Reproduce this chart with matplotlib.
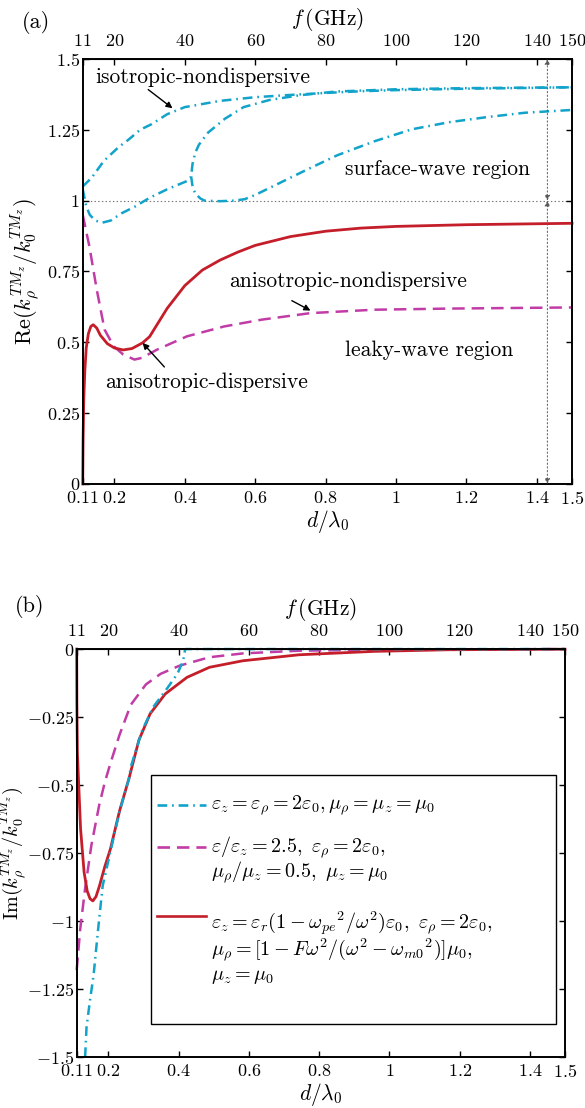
import matplotlib
matplotlib.use('Agg')
import matplotlib.pyplot as plt
from matplotlib.patches import Rectangle

plt.rcParams.update({
    'font.family': 'serif', 'font.serif': ['cmr10'], 'mathtext.fontset': 'cm',
    'axes.unicode_minus': False, 'axes.formatter.use_mathtext': True,
    'lines.scale_dashes': False,
})

CYAN = '#12A3CB'
RED = '#C41E2A'
MAG = '#C13CA6'
DASHDOT = (0, (7, 3.5, 1.2, 3.5))
DASHED = (0, (9, 5))

# ---------------- data: panel (a) real part ----------------
iso_A_x = [0.11, 0.135, 0.17, 0.2, 0.213, 0.239, 0.273, 0.306, 0.35, 0.4, 0.5, 0.6, 0.7, 0.8, 0.9, 1.0, 1.2, 1.4, 1.5]
iso_A_y = [1.05, 1.08, 1.14, 1.175, 1.19, 1.214, 1.25, 1.27, 1.305, 1.33, 1.352, 1.365, 1.373, 1.38, 1.386, 1.39, 1.395, 1.398, 1.40]

iso_CD_x = [0.11, 0.12, 0.13, 0.145, 0.165, 0.19, 0.22, 0.26, 0.3, 0.35, 0.408, 0.418,
            0.422, 0.43, 0.44, 0.466, 0.514, 0.567, 0.64, 0.727, 0.83, 1.0, 1.2, 1.5]
iso_CD_y = [1.04, 0.98, 0.95, 0.93, 0.922, 0.93, 0.955, 0.98, 1.01, 1.04, 1.07, 1.085,
            1.13, 1.17, 1.197, 1.24, 1.289, 1.33, 1.355, 1.372, 1.385, 1.393, 1.397, 1.40]

iso_E_x = [0.418, 0.422, 0.43, 0.445, 0.456, 0.5, 0.54, 0.57, 0.6, 0.674, 0.748, 0.833, 0.94, 1.046, 1.152, 1.26, 1.365, 1.5]
iso_E_y = [1.085, 1.05, 1.024, 1.007, 1.0, 0.998, 1.0, 1.005, 1.02, 1.065, 1.11, 1.16, 1.21, 1.252, 1.277, 1.295, 1.31, 1.32]

aniso_x = [0.11, 0.129, 0.15, 0.172, 0.198, 0.225, 0.257, 0.278, 0.321, 0.406, 0.512, 0.619, 0.757, 0.938, 1.15, 1.5]
aniso_y = [0.95, 0.838, 0.685, 0.545, 0.486, 0.457, 0.439, 0.445, 0.474, 0.521, 0.556, 0.58, 0.603, 0.615, 0.619, 0.623]

disp_x = [0.11, 0.111, 0.113, 0.116, 0.12, 0.126, 0.133, 0.14, 0.15, 0.16, 0.18, 0.2, 0.225, 0.25, 0.28, 0.3,
          0.35, 0.4, 0.45, 0.5, 0.55, 0.6, 0.7, 0.8, 0.9, 1.0, 1.2, 1.5]
disp_y = [0.0, 0.15, 0.3, 0.4, 0.48, 0.53, 0.556, 0.562, 0.55, 0.525, 0.495, 0.48, 0.473, 0.478, 0.498, 0.52,
          0.62, 0.70, 0.755, 0.79, 0.818, 0.842, 0.873, 0.892, 0.903, 0.909, 0.915, 0.92]

# ---------------- data: panel (b) imaginary part ----------------
iso_im_x = [0.134, 0.138, 0.148, 0.158, 0.171, 0.184, 0.206, 0.232, 0.259, 0.264, 0.296, 0.328, 0.37, 0.397, 0.413, 0.418, 0.42, 1.5]
iso_im_y = [-1.5, -1.39, -1.29, -1.2, -1.03, -0.87, -0.745, -0.597, -0.475, -0.433, -0.3, -0.213, -0.14, -0.09, -0.043, -0.006, 0.0, 0.0]

aniso_im_x = [0.11, 0.12, 0.134, 0.152, 0.174, 0.19, 0.206, 0.232, 0.264, 0.307, 0.349, 0.403, 0.488, 0.583, 0.743, 0.956, 1.5]
aniso_im_y = [-1.18, -1.03, -0.88, -0.72, -0.574, -0.49, -0.42, -0.315, -0.205, -0.13, -0.091, -0.061, -0.03, -0.016, -0.006, -0.0024, 0.0]

disp_im_x = [0.11, 0.1105, 0.112, 0.115, 0.121, 0.131, 0.14, 0.148, 0.156, 0.165, 0.175, 0.19, 0.206, 0.232, 0.259,
             0.287, 0.319, 0.362, 0.424, 0.488, 0.583, 0.743, 0.956, 1.17, 1.5]
disp_im_y = [0.0, -0.2, -0.38, -0.475, -0.66, -0.82, -0.89, -0.918, -0.926, -0.91, -0.87, -0.8, -0.735, -0.595, -0.475,
             -0.335, -0.238, -0.165, -0.104, -0.067, -0.043, -0.021, -0.0085, -0.0025, -0.0005]

# ---------------- ticks ----------------
d_ticks = [0.11, 0.2, 0.4, 0.6, 0.8, 1.0, 1.2, 1.4, 1.5]
d_labels = ['0.11', '0.2', '0.4', '0.6', '0.8', '1', '1.2', '1.4', '1.5']
f_ticks = [11, 20, 40, 60, 80, 100, 120, 140, 150]
re_ticks = [0, 0.25, 0.5, 0.75, 1.0, 1.25, 1.5]
re_labels = ['0', '0.25', '0.5', '0.75', '1', '1.25', '1.5']
im_ticks = [0, -0.25, -0.5, -0.75, -1.0, -1.25, -1.5]
im_labels = ['0', '-0.25', '-0.5', '-0.75', '-1', '-1.25', '-1.5']

legend_labels = [
    [r'$\varepsilon_z=\varepsilon_\rho=2\varepsilon_0,\mu_\rho=\mu_z=\mu_0$'],
    [r'$\varepsilon/\varepsilon_z=2.5,\ \varepsilon_\rho=2\varepsilon_0,$',
     r'$\mu_\rho/\mu_z=0.5,\ \mu_z=\mu_0$'],
    [r'$\varepsilon_z=\varepsilon_r(1-{\omega_{pe}}^2/\omega^2)\varepsilon_0,\ \varepsilon_\rho=2\varepsilon_0,$',
     r'$\mu_\rho=[1-F\omega^2/(\omega^2-{\omega_{m0}}^2)]\mu_0,$',
     r'$\mu_z=\mu_0$'],
]

TICK_FS = 13
TXT_FS = 15.5
YLAB_FS = 16

fig = plt.figure(figsize=(5.85, 11.08), dpi=100)


def style_axes(ax, yticks, ylabels):
    ax.set_xlim(0.11, 1.5)
    ax.set_xticks(d_ticks)
    ax.set_xticklabels(['$' + s + '$' for s in d_labels], fontsize=TICK_FS)
    ax.set_yticks(yticks)
    ax.set_yticklabels(['$' + s + '$' for s in ylabels], fontsize=TICK_FS)
    ax.tick_params(axis='both', direction='in', length=4, width=1.0, right=True)
    ax.tick_params(axis='y', pad=2)
    ax.tick_params(axis='x', pad=4)
    for sp in ax.spines.values():
        sp.set_linewidth(1.4)
    sec = ax.secondary_xaxis('top', functions=(lambda d: d * 100, lambda f: f / 100))
    sec.set_xticks(f_ticks)
    sec.set_xticklabels(['$%d$' % v for v in f_ticks], fontsize=TICK_FS)
    sec.tick_params(direction='in', length=4, width=1.0, pad=7)
    sec.set_xlabel(r'$f\,(\mathrm{GHz})$', fontsize=TXT_FS, labelpad=5)
    ax.set_xlabel(r'$d/\lambda_0$', fontsize=TXT_FS, labelpad=1)
    return sec


# ---------------- panel (a) ----------------
axa = fig.add_axes([0.1414, 0.5632, 0.8364, 0.3836])
axa.set_ylim(0, 1.5)
style_axes(axa, re_ticks, re_labels)
axa.set_ylabel(r'$\mathrm{Re}(k_\rho^{TM_z}/k_0^{TM_z})$', fontsize=YLAB_FS)
axa.yaxis.set_label_coords(-0.083, 0.5)

axa.axhline(1.0, color='0.45', ls=':', lw=0.8, zorder=1)
axa.plot(iso_A_x, iso_A_y, color=CYAN, lw=1.8, ls=DASHDOT)
axa.plot(iso_CD_x, iso_CD_y, color=CYAN, lw=1.8, ls=DASHDOT)
axa.plot(iso_E_x, iso_E_y, color=CYAN, lw=1.8, ls=DASHDOT)
axa.plot(aniso_x, aniso_y, color=MAG, lw=1.8, ls=DASHED)
axa.plot(disp_x, disp_y, color=RED, lw=2.0, clip_on=False)

arrow_kw = dict(arrowstyle='<|-|>', color='0.35', lw=0.7, ls=':', shrinkA=0, shrinkB=0, mutation_scale=8)
axa.annotate('', xy=(1.43, 1.5), xytext=(1.43, 1.0), arrowprops=arrow_kw)
axa.annotate('', xy=(1.43, 0.0), xytext=(1.43, 1.0), arrowprops=arrow_kw)

pointer = dict(arrowstyle='-|>', color='k', lw=1.0, mutation_scale=9, shrinkA=0, shrinkB=0)
axa.text(0.147, 1.437, 'isotropic-nondispersive', fontsize=TXT_FS, va='center', ha='left')
axa.annotate('', xy=(0.365, 1.326), xytext=(0.296, 1.392), arrowprops=pointer)
axa.text(0.855, 1.11, 'surface-wave region', fontsize=TXT_FS, va='center', ha='left')
axa.text(0.525, 0.715, 'anisotropic-nondispersive', fontsize=TXT_FS, va='center', ha='left')
axa.annotate('', xy=(0.757, 0.612), xytext=(0.704, 0.647), arrowprops=pointer)
axa.text(0.855, 0.472, 'leaky-wave region', fontsize=TXT_FS, va='center', ha='left')
axa.text(0.174, 0.36, 'anisotropic-dispersive', fontsize=TXT_FS, va='center', ha='left')
axa.annotate('', xy=(0.28, 0.498), xytext=(0.342, 0.413), arrowprops=pointer)

fig.text(22 / 585, 1 - 22 / 1108, '(a)', fontsize=16, ha='left', va='center')

# ---------------- panel (b) ----------------
axb = fig.add_axes([0.1311, 0.0460, 0.8347, 0.3682])
axb.set_ylim(-1.5, 0)
style_axes(axb, im_ticks, im_labels)
axb.set_ylabel(r'$\mathrm{Im}(k_\rho^{TM_z}/k_0^{TM_z})$', fontsize=14.5)
axb.yaxis.set_label_coords(-0.097, 0.5)

axb.plot(aniso_im_x, aniso_im_y, color=MAG, lw=1.8, ls=DASHED, clip_on=False)
axb.plot(disp_im_x, disp_im_y, color=RED, lw=2.0, clip_on=False)
axb.plot(iso_im_x, iso_im_y, color=CYAN, lw=1.8, ls=DASHDOT, clip_on=False)

# legend box
axb.add_patch(Rectangle((0.322, -1.38), 1.153, 0.917, facecolor='white', edgecolor='k', lw=1.0, zorder=5))
handle_y = [-0.574, -0.728, -0.98]
handle_style = [(CYAN, DASHDOT), (MAG, DASHED), (RED, '-')]
text_rows = [[-0.574], [-0.728, -0.818], [-1.01, -1.107, -1.204]]
for hy, (c, ls), rows, labs in zip(handle_y, handle_style, text_rows, legend_labels):
    axb.plot([0.339, 0.478], [hy, hy], color=c, ls=ls, lw=1.9, zorder=6)
    for ty, lab in zip(rows, labs):
        axb.text(0.493, ty, lab, fontsize=14.5, va='center', ha='left', zorder=6)

fig.text(15 / 585, 1 - 607 / 1108, '(b)', fontsize=16, ha='left', va='center')

fig.savefig('out.png', dpi=100)
